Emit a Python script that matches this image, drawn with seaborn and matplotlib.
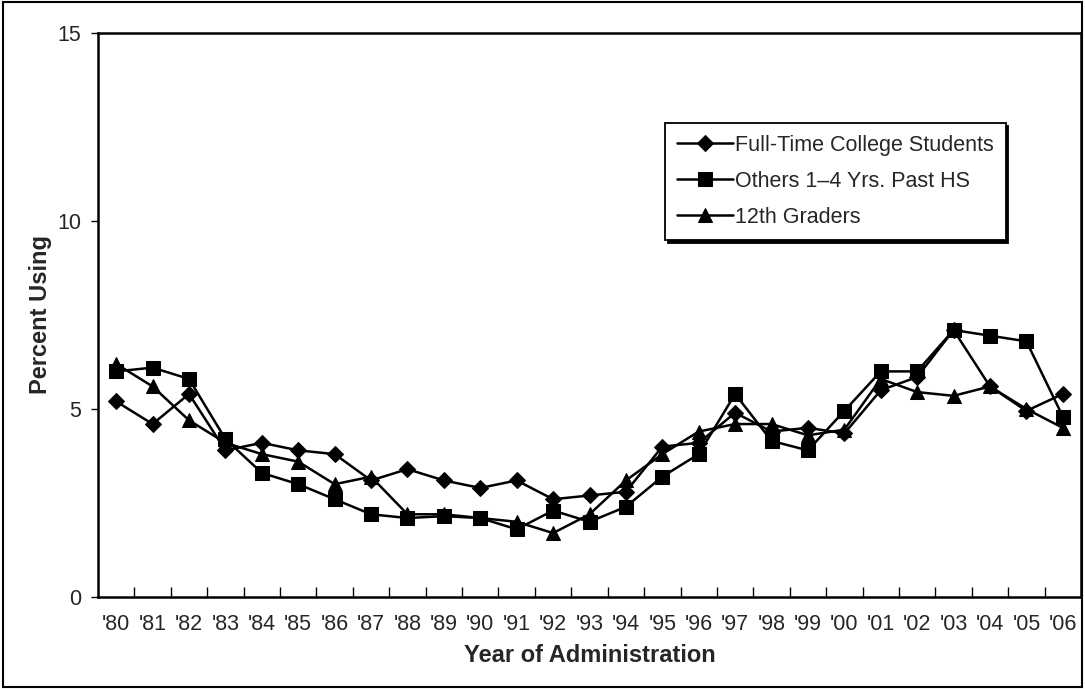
import matplotlib
matplotlib.use("Agg")
import matplotlib.pyplot as plt
from matplotlib.patches import Rectangle
import numpy as np
import pandas as pd
import seaborn as sns

# Data
years = ["'80", "'81", "'82", "'83", "'84", "'85", "'86", "'87", "'88", "'89",
         "'90", "'91", "'92", "'93", "'94", "'95", "'96", "'97", "'98", "'99",
         "'00", "'01", "'02", "'03", "'04", "'05", "'06"]
college = [5.2, 4.6, 5.4, 3.9, 4.1, 3.9, 3.8, 3.1, 3.4, 3.1,
           2.9, 3.1, 2.6, 2.7, 2.8, 4.0, 4.1, 4.9, 4.4, 4.5,
           4.35, 5.5, 5.85, 7.1, 5.6, 4.95, 5.4]
others = [6.0, 6.1, 5.8, 4.2, 3.3, 3.0, 2.6, 2.2, 2.1, 2.15,
          2.1, 1.8, 2.3, 2.0, 2.4, 3.2, 3.8, 5.4, 4.15, 3.9,
          4.95, 6.0, 6.0, 7.1, 6.95, 6.8, 4.8]
graders = [6.2, 5.6, 4.7, 4.1, 3.8, 3.6, 3.0, 3.2, 2.2, 2.2,
           2.1, 2.0, 1.7, 2.2, 3.1, 3.8, 4.4, 4.6, 4.6, 4.3,
           4.45, 5.8, 5.45, 5.35, 5.6, 5.0, 4.5]
series_names = ["Full-Time College Students", "Others 1\u20134 Yrs. Past HS", "12th Graders"]
series_markers = ["D", "s", "^"]
series_sizes = [8.5, 10, 10]

sns.set_style("white")
plt.rcParams["font.family"] = ["Liberation Sans", "DejaVu Sans"]

fig = plt.figure(figsize=(10.85, 6.89), dpi=100)
ax = fig.add_axes([98 / 1085, 1 - 597 / 689, (1081 - 98) / 1085, (597 - 33) / 689])

x = np.arange(len(years))
for name, vals, mk, ms in zip(series_names, [college, others, graders], series_markers, series_sizes):
    df = pd.DataFrame({"x": x, "y": vals})
    sns.lineplot(data=df, x="x", y="y", ax=ax, color="black", linewidth=1.8,
                 marker=mk, markersize=ms, markeredgecolor="black",
                 markerfacecolor="black", label=name)

ax.set_xlim(-0.5, len(years) - 0.5)
ax.set_ylim(0, 15)
ax.set_yticks([0, 5, 10, 15])
ax.set_xticks(x)
ax.set_xticklabels(years)
ax.set_xticks(np.arange(0.5, len(years) - 1, 1.0), minor=True)
ax.tick_params(axis="x", which="major", length=0, labelsize=15.5, pad=12)
ax.tick_params(axis="x", which="minor", direction="in", length=7, width=1, color="black", bottom=True)
ax.tick_params(axis="y", which="major", direction="out", length=5, width=1, color="black",
               left=True, labelsize=15.5, pad=7)

for s in ax.spines.values():
    s.set_color("black")
    s.set_linewidth(1.8)

ax.set_xlabel("Year of Administration", fontsize=17, fontweight="bold", labelpad=7)
ax.set_ylabel("Percent Using", fontsize=17, fontweight="bold", labelpad=4)

leg = ax.legend(loc="upper left", bbox_to_anchor=((665 - 98) / 983, (597 - 123) / 564), frameon=True,
                fancybox=False, shadow={"color": "black", "alpha": 1.0}, fontsize=15.5,
                handlelength=2.6, handletextpad=0.1, labelspacing=0.7,
                borderpad=0.55, borderaxespad=0)
leg.get_frame().set_edgecolor("black")
leg.get_frame().set_linewidth(1.3)

# outer border around the whole figure
fig.patches.append(Rectangle((0.003, 0.003), 0.994, 0.994, transform=fig.transFigure,
                             fill=False, edgecolor="black", linewidth=1.5))

fig.savefig("out.png", dpi=100)
